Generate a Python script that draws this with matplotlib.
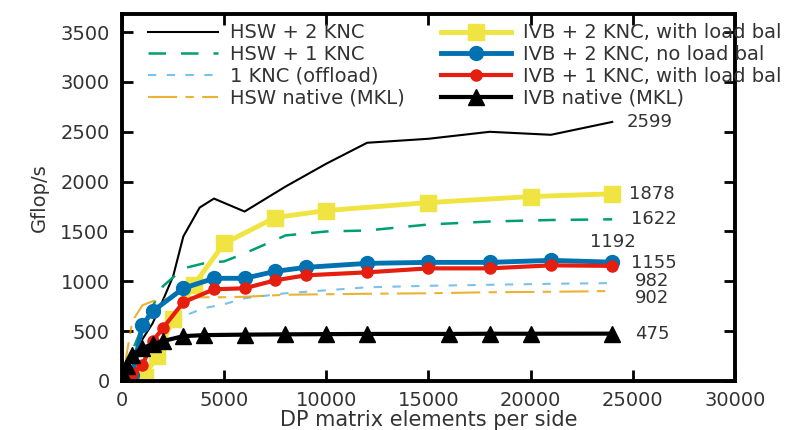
import numpy as np
import matplotlib.pyplot as plt

# HSW series
hsw2_x = [100, 250, 500, 1000, 1500, 2000, 2500, 3000, 3800, 4500, 6000, 8000, 10000, 12000, 15000, 18000, 21000, 24000]
hsw2_y = [30, 100, 250, 420, 580, 810, 1050, 1450, 1740, 1830, 1700, 1950, 2180, 2390, 2430, 2500, 2470, 2599]

hsw1_x = [100, 250, 500, 1000, 1500, 2000, 3000, 4000, 5000, 6000, 8000, 10000, 12000, 15000, 18000, 21000, 24000]
hsw1_y = [40, 120, 300, 550, 750, 950, 1130, 1180, 1200, 1280, 1460, 1500, 1510, 1570, 1600, 1615, 1622]

offl_x = [100, 250, 500, 1000, 1500, 2000, 3000, 4000, 5000, 6000, 8000, 10000, 12000, 15000, 18000, 21000, 24000]
offl_y = [20, 60, 150, 300, 420, 520, 650, 730, 770, 830, 880, 910, 940, 955, 965, 975, 982]

hswn_x = [100, 250, 500, 1000, 1500, 2000, 3000, 4000, 5000, 6000, 8000, 10000, 12000, 15000, 18000, 21000, 24000]
hswn_y = [100, 300, 600, 760, 800, 820, 840, 840, 840, 845, 865, 870, 875, 880, 890, 895, 902]

# IVB series
ivb2lb_x = [500, 1100, 1700, 2500, 3500, 5000, 7500, 10000, 15000, 20000, 24000]
ivb2lb_y = [0, 40, 250, 620, 960, 1380, 1640, 1710, 1790, 1850, 1878]

ivb2nl_x = [250, 500, 1000, 1500, 3000, 4500, 6000, 7500, 9000, 12000, 15000, 18000, 21000, 24000]
ivb2nl_y = [0, 60, 560, 700, 930, 1030, 1030, 1100, 1140, 1180, 1190, 1190, 1210, 1192]

ivb1lb_x = [250, 500, 1000, 1500, 2000, 3000, 4500, 6000, 7500, 9000, 12000, 15000, 18000, 21000, 24000]
ivb1lb_y = [30, 80, 160, 400, 530, 790, 920, 930, 1010, 1060, 1090, 1130, 1130, 1160, 1155]

ivbn_x = [100, 250, 500, 1000, 1500, 2000, 3000, 4000, 6000, 8000, 10000, 12000, 16000, 18000, 20000, 24000]
ivbn_y = [50, 150, 260, 330, 370, 400, 450, 460, 465, 468, 470, 472, 472, 474, 474, 475]

end_labels = ["2599", "1878", "1622", "1192", "1155", "982", "902", "475"]
label_pos = [(24700, 2600), (24800, 1880), (24900, 1630), (22900, 1390),
             (24900, 1185), (25100, 1000), (25100, 830), (25100, 470)]

plt.rcParams['font.family'] = 'DejaVu Sans'
fig = plt.figure(figsize=(8.03, 4.30), dpi=100)
ax = fig.add_axes([0.152, 0.114, 0.763, 0.853])

ax.plot(hsw2_x, hsw2_y, color='black', lw=1.5, label='HSW + 2 KNC')
ax.plot(hsw1_x, hsw1_y, color='#009e73', lw=1.8, dashes=(7, 6), label='HSW + 1 KNC')
ax.plot(offl_x, offl_y, color='#56b4e9', lw=1.5, dashes=(4, 5), alpha=0.8, label='1 KNC (offload)')
ax.plot(hswn_x, hswn_y, color='#e69f00', lw=1.5, dashes=(14, 4, 4, 4), alpha=0.8, label='HSW native (MKL)')

ax.plot(ivb2lb_x, ivb2lb_y, color='#f0e442', lw=3.5, marker='s', ms=12, label='IVB + 2 KNC, with load bal')
ax.plot(ivb2nl_x, ivb2nl_y, color='#0072b2', lw=3.5, marker='o', ms=10, label='IVB + 2 KNC, no load bal')
ax.plot(ivb1lb_x, ivb1lb_y, color='#e51e10', lw=3, marker='o', ms=8, label='IVB + 1 KNC, with load bal')
ax.plot(ivbn_x, ivbn_y, color='black', lw=3, marker='^', ms=11, label='IVB native (MKL)')

for txt, (tx, ty) in zip(end_labels, label_pos):
    ax.text(tx, ty, txt, fontsize=13, color='#333333', va='center', ha='left')

ax.set_xlim(0, 30000)
ax.set_ylim(0, 3680)
ax.set_xticks(np.arange(0, 30001, 5000))
ax.set_yticks(np.arange(0, 3501, 500))
ax.tick_params(direction='in', top=True, right=True, length=8, width=2,
               labelsize=14, labelcolor='#333333', pad=9)
ax.tick_params(axis='x', pad=7)
for s in ax.spines.values():
    s.set_linewidth(2.8)

ax.set_xlabel('DP matrix elements per side', fontsize=15, color='#333333', labelpad=0)
ax.set_ylabel('Gflop/s', fontsize=14, color='#333333', labelpad=8)

leg = ax.legend(loc='upper left', ncol=2, frameon=False, fontsize=14,
                handlelength=3.6, handletextpad=0.6, columnspacing=1.9,
                labelspacing=0.14, borderaxespad=0.3, bbox_to_anchor=(0.02, 1.012))
for t in leg.get_texts():
    t.set_color('#333333')

fig.savefig('out.png', dpi=100)
